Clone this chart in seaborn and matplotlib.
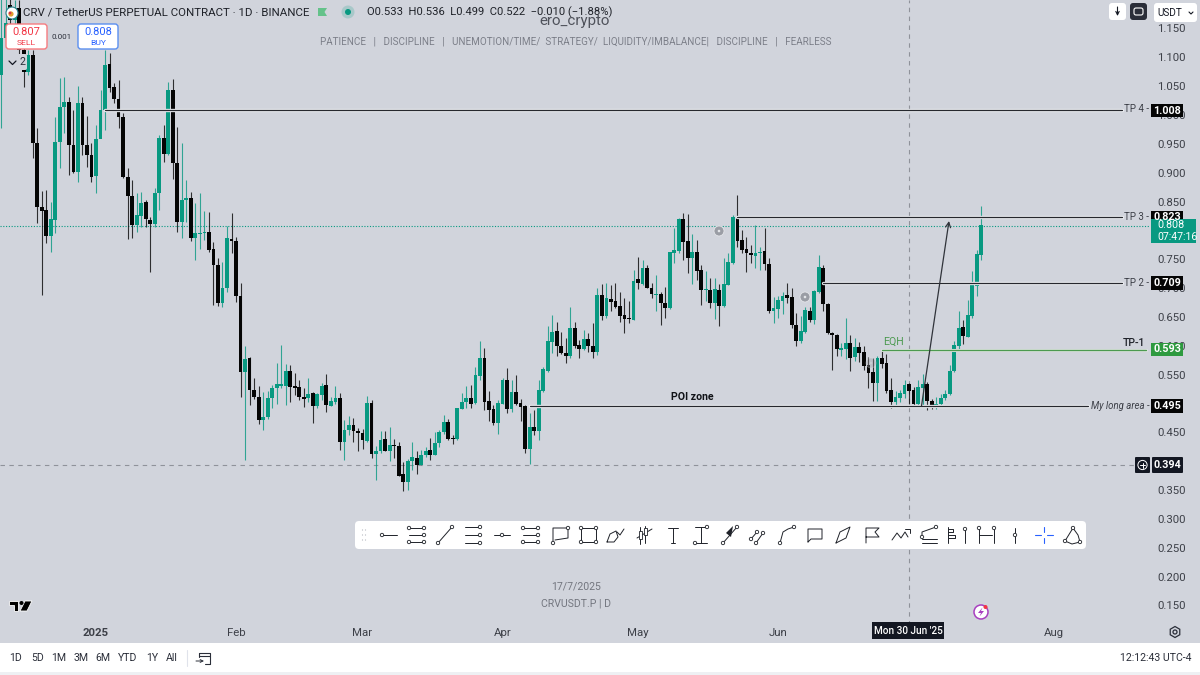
import numpy as np
import pandas as pd
import matplotlib
matplotlib.use("Agg")
import matplotlib.pyplot as plt
import matplotlib.dates as mdates
import matplotlib.patheffects as pe
from matplotlib.patches import Circle, FancyBboxPatch, Polygon, Rectangle, RegularPolygon
import seaborn as sns

first_day = "2024-12-11"

opens = [1.069,1.133,1.190,1.165,1.185,1.113,1.075,1.104,.952,.840,.835,.791,.818,.953,1.014,1.023,.948,.901,1.020,.948,
         .930,.894,.958,1.009,1.088,1.048,1.027,.996,.892,.859,.809,.825,.849,.818,.811,.865,.961,.932,1.044,.917,
         .815,.852,.857,.786,.793,.795,.798,.768,.740,.675,.700,.785,.782,.687,.555,.578,.524,.512,.471,.476,
         .510,.526,.531,.530,.557,.531,.529,.512,.510,.518,.495,.515,.532,.496,.503,.509,.434,.454,.462,.453,
         .449,.435,.501,.412,.417,.438,.418,.428,.427,.377,.364,.401,.405,.393,.410,.419,.411,.432,.450,.468,
         .440,.438,.491,.503,.509,.501,.548,.579,.504,.490,.467,.500,.541,.490,.520,.501,.496,.421,.460,.452,
         .522,.557,.607,.625,.600,.588,.582,.631,.601,.595,.612,.600,.589,.688,.652,.681,.677,.669,.653,.648,
         .645,.715,.707,.735,.701,.688,.690,.674,.665,.760,.765,.819,.782,.752,.763,.731,.697,.697,.674,.697,
         .669,.706,.743,.824,.783,.768,.761,.756,.760,.764,.742,.660,.664,.678,.688,.684,.636,.609,.624,.661,
         .644,.694,.735,.673,.623,.619,.593,.594,.605,.580,.598,.590,.566,.554,.535,.579,.570,.523,.503,.509,
         .516,.533,.523,.500,.526,.534,.505,.497,.500,.510,.516,.556,.600,.632,.616,.652,.704,.757]
highs = [1.210,1.210,1.210,1.200,1.200,1.124,1.113,1.113,.977,.869,.870,.850,.997,1.064,1.066,1.031,1.009,1.050,1.032,.998,
         .951,.983,1.044,1.113,1.108,1.055,1.061,1.003,.908,.887,.865,.867,.853,.824,.873,.965,.983,1.058,1.062,.979,
         .952,.887,.867,.847,.865,.834,.832,.780,.752,.746,.808,.831,.788,.708,.600,.581,.544,.531,.520,.522,
         .532,.570,.601,.568,.566,.553,.541,.526,.545,.520,.519,.535,.551,.512,.530,.518,.471,.478,.475,.457,
         .455,.513,.506,.427,.452,.453,.459,.438,.434,.399,.403,.434,.418,.419,.424,.441,.451,.454,.480,.473,
         .445,.493,.519,.530,.532,.564,.608,.596,.522,.497,.506,.545,.562,.540,.549,.508,.497,.484,.488,.540,
         .564,.635,.653,.641,.624,.613,.667,.641,.610,.627,.622,.639,.700,.707,.708,.705,.709,.693,.683,.678,
         .731,.754,.749,.740,.708,.723,.694,.702,.763,.805,.821,.831,.828,.793,.783,.740,.729,.718,.718,.707,
         .753,.760,.827,.861,.800,.789,.775,.809,.772,.805,.752,.685,.686,.694,.709,.701,.656,.652,.668,.668,
         .697,.757,.740,.675,.624,.620,.605,.648,.619,.614,.607,.599,.581,.578,.583,.594,.586,.544,.522,.523,
         .540,.536,.529,.541,.551,.538,.508,.512,.516,.523,.566,.609,.661,.644,.679,.730,.766,.843]
lows = [.977,1.130,1.130,1.130,1.090,1.049,1.069,.925,.813,.688,.779,.763,.795,.908,.968,.896,.899,.884,.931,.910,
        .884,.865,.974,.974,1.040,1.020,.977,.890,.785,.786,.797,.806,.806,.728,.806,.835,.919,.931,.889,.797,
        .786,.815,.782,.748,.767,.783,.763,.671,.669,.667,.694,.761,.676,.512,.402,.497,.507,.464,.454,.474,
        .492,.500,.526,.497,.503,.515,.506,.494,.503,.467,.492,.506,.486,.495,.500,.419,.402,.445,.434,.417,
        .421,.434,.405,.367,.414,.417,.401,.405,.374,.348,.350,.385,.378,.393,.408,.402,.410,.424,.447,.436,
        .430,.437,.490,.492,.492,.500,.541,.489,.470,.463,.447,.499,.483,.486,.497,.470,.414,.396,.445,.436,
        .520,.555,.587,.583,.586,.570,.578,.596,.578,.593,.589,.578,.584,.645,.648,.661,.665,.641,.623,.640,
        .644,.698,.705,.700,.682,.661,.636,.649,.664,.744,.760,.749,.727,.707,.714,.671,.678,.666,.646,.635,
        .668,.705,.742,.771,.760,.728,.743,.734,.731,.731,.657,.640,.648,.655,.674,.630,.600,.604,.622,.642,
        .638,.691,.661,.620,.558,.583,.583,.577,.557,.574,.572,.558,.526,.505,.505,.562,.518,.493,.496,.503,
        .509,.499,.496,.496,.497,.489,.490,.490,.497,.506,.514,.555,.593,.603,.615,.649,.686,.748]
closes = [1.133,1.160,1.165,1.185,1.113,1.075,1.104,.951,.840,.833,.791,.819,.953,1.014,1.023,.948,.901,1.021,.948,.930,
          .893,.958,1.009,1.087,1.047,1.027,.996,.892,.859,.809,.826,.847,.819,.811,.865,.961,.932,1.044,.916,.815,
          .853,.857,.786,.795,.796,.798,.766,.740,.675,.700,.786,.782,.686,.555,.577,.524,.512,.471,.476,.510,
          .526,.534,.534,.556,.529,.526,.511,.508,.517,.495,.517,.531,.498,.504,.509,.434,.454,.462,.452,.449,
          .436,.501,.412,.418,.437,.418,.428,.426,.375,.364,.401,.407,.393,.410,.418,.410,.432,.451,.468,.438,
          .438,.492,.503,.509,.500,.549,.579,.502,.489,.466,.501,.541,.490,.520,.500,.494,.422,.459,.453,.523,
          .560,.608,.624,.600,.587,.582,.630,.600,.595,.612,.600,.589,.688,.652,.682,.676,.668,.652,.647,.646,
          .713,.708,.735,.701,.689,.690,.675,.665,.762,.766,.820,.780,.752,.763,.730,.697,.698,.674,.698,.669,
          .707,.745,.824,.782,.766,.760,.758,.760,.763,.741,.661,.665,.679,.687,.682,.636,.609,.626,.662,.645,
          .695,.737,.672,.622,.618,.594,.597,.605,.579,.598,.588,.565,.553,.535,.579,.568,.522,.503,.512,.518,
          .532,.522,.500,.528,.534,.505,.496,.500,.510,.516,.557,.601,.631,.617,.653,.705,.759,.809]

price_ticks = [1.15,1.10,1.05,1.00,.95,.90,.85,.75,.70,.65,.60,.55,.45,.35,.30,.25,.20,.15]
month_ticks = ["2025-01-01","2025-02-01","2025-03-01","2025-04-01","2025-05-01","2025-06-01","2025-08-01"]
month_labels = ["2025","Feb","Mar","Apr","May","Jun","Aug"]
range_labels = ["1D","5D","1M","3M","6M","YTD","1Y","All"]

tp_levels = [1.008,.823,.709,.495]
tp_start = ["2025-01-03","2025-05-23","2025-06-11","2025-04-07"]
eqh_level = .593
last_price = .808
cross_price = .394
cross_day = "2025-06-30"

BG = "#d1d4dc"
GREEN = "#089981"
DARK = "#131722"
FONT = ["Roboto", "DejaVu Sans"]

sns.set_theme(style="white", rc={"axes.facecolor": BG, "figure.facecolor": BG})
plt.rcParams["font.family"] = FONT

df = pd.DataFrame({"day": mdates.date2num(pd.date_range(first_day, periods=len(closes))),
                   "open": opens, "high": highs, "low": lows, "close": closes})
df["up"] = df["close"] >= df["open"]
df["bottom"] = df[["open", "close"]].min(axis=1)
df["body"] = (df["close"] - df["open"]).abs()

fig = plt.figure(figsize=(12, 6.75), dpi=100)
ax = fig.add_axes([0, 50 / 675, 1150 / 1200, 625 / 675])

# pixel scale of the chart pane
DAY_PX = 4.517
day0 = mdates.datestr2num("2025-01-01")


def px_day(px):
    return day0 + (px - 96) / DAY_PX


ax.set_xlim(px_day(0), px_day(1150))
ax.set_ylim(1 - 510 / 577, 1 + 115 / 577)

for up, color in [(True, GREEN), (False, "#050505")]:
    sub = df[df["up"] == up].sort_values("day")
    ax.vlines(sub["day"], sub["low"], sub["high"], color=color, lw=0.8, alpha=0.8, zorder=1)
    sns.barplot(data=sub, x="day", y="body", bottom=sub["bottom"].values, native_scale=True,
                color=color, saturation=1, width=0.84, errorbar=None, linewidth=0, ax=ax, zorder=2)

halo = [pe.Stroke(linewidth=2.4, foreground="#eceef2"), pe.Normal()]
for level, start in zip(tp_levels, tp_start):
    end = px_day(1088) if level == .495 else px_day(1122)
    ax.plot([mdates.datestr2num(start), end], [level, level], color="#26282e", lw=0.9,
            path_effects=halo, zorder=3)
ax.plot([px_day(882), px_day(1146)], [eqh_level, eqh_level], color="#4c9a50", lw=1.0,
        path_effects=[pe.Stroke(linewidth=2.2, foreground="#e4e8e6"), pe.Normal()], zorder=3)
ax.axhline(last_price, color=GREEN, lw=0.8, ls=(0, (1, 1.5)), zorder=0.5)
ax.axhline(cross_price, color="#8f929a", lw=0.8, ls=(0, (4, 4)), zorder=0.5)
ax.axvline(mdates.datestr2num(cross_day), color="#8f929a", lw=0.8, ls=(0, (4, 4)), zorder=0.5)

ax.set_yticks(price_ticks)
ax.set_yticklabels([f"{p:.3f}" for p in price_ticks])
ax.yaxis.tick_right()
ax.set_xticks(mdates.datestr2num(month_ticks))
ax.set_xticklabels(month_labels)
ax.tick_params(axis="y", length=0, pad=5, labelsize=8.2, labelcolor="#3d4048")
ax.tick_params(axis="x", length=0, pad=2, labelsize=8.2, labelcolor="#3d4048")
ax.get_xticklabels()[0].set_fontweight("bold")
ax.set_xlabel("")
ax.set_ylabel("")
sns.despine(ax=ax, left=True, bottom=True, right=True, top=True)

# everything that is screen furniture goes on a pixel overlay
ui = fig.add_axes([0, 0, 1, 1], facecolor="none")
ui.set_xlim(0, 1200)
ui.set_ylim(675, 0)
ui.axis("off")


def txt(x, y, s, px=11, color=DARK, ha="center", **kw):
    return ui.text(x, y, s, fontsize=px * 0.72, color=color, ha=ha, va="center", **kw)


def box(x0, y0, x1, y1, fc, ec="none", r=0, lw=1.0, z=3):
    if r:
        p = FancyBboxPatch((x0, y0), x1 - x0, y1 - y0, boxstyle=f"round,pad=0,rounding_size={r}",
                           fc=fc, ec=ec, lw=lw, zorder=z)
    else:
        p = Rectangle((x0, y0), x1 - x0, y1 - y0, fc=fc, ec=ec, lw=lw, zorder=z)
    ui.add_patch(p)


# header
ui.add_patch(Circle((12, 13), 6, fc="white", ec="#2a7f8a", lw=0.8))
ui.add_patch(Circle((11, 14), 2.6, fc="#e0a030", ec="none"))
ui.add_patch(Circle((10, 13), 1.4, fc="#d8334a", ec="none"))
txt(23, 12.5, "CRV / TetherUS PERPETUAL CONTRACT · 1D · BINANCE", 11.45, "#1f2229", ha="left")
ui.add_patch(Polygon([(318, 8), (327, 8), (324.5, 12), (327, 16), (318, 16)], fc="#64c28a", ec="none"))
ui.add_patch(Circle((348, 12), 6.5, fc=GREEN, ec="none", alpha=0.2))
ui.add_patch(Circle((348, 12), 3, fc=GREEN, ec="none"))
txt(367, 12.5, "O0.533  H0.536  L0.499  C0.522  −0.010 (−1.88%)", 11.2, "#1f2229", ha="left")
txt(575, 21, "ero_crypto", 15, "#4f525b")
txt(575.5, 41, "PATIENCE   |   DISCIPLINE   |   UNEMOTION/TIME/  STRATEGY/  LIQUIDITY/IMBALANCE|   DISCIPLINE   |   FEARLESS",
    9.9, "#7c7f89")

box(6, 24, 47, 49, "white", "#f77c80", r=3)
txt(26.5, 32, "0.807", 11, "#f23645", zorder=4)
txt(26.5, 43, "SELL", 8.5, "#f23645", zorder=4)
txt(62, 37, "0.001", 8, "#2a2e39")
box(78, 24, 118, 49, "white", "#5b8ff0", r=3)
txt(98, 32, "0.808", 11, "#2962ff", zorder=4)
txt(98, 43, "BUY", 8.5, "#2962ff", zorder=4)
box(6, 54, 27, 70, "#d1d4dc", r=2, z=2.5)
ui.plot([9, 12.5, 16], [61, 64.5, 61], color=DARK, lw=0.9, zorder=4)
txt(22, 62, "2", 10.5, "#2a2e39", zorder=4)

# right-hand top buttons
box(1109, 3, 1126, 20, "white", r=3)
ui.annotate("", xy=(1117.5, 16), xytext=(1117.5, 7), arrowprops=dict(arrowstyle="->", color=DARK, lw=0.8, shrinkA=0, shrinkB=0, mutation_scale=6), zorder=4)
box(1130, 3, 1147, 20, "#2a2e39", r=3)
box(1134, 8, 1143, 15, "none", "white", r=2, lw=0.8, z=4)
box(1154, 3, 1197, 22, "white", r=3)
txt(1157, 12.5, "USDT", 10, DARK, ha="left", zorder=4)
ui.plot([1189, 1191, 1193], [12, 14, 12], color=DARK, lw=0.8, zorder=4)

# price boxes
for y0, y1, s in [(104, 117, "1.008"), (211, 224, "0.823"), (276, 290, "0.709"), (399, 413, "0.495")]:
    box(1151, y0, 1183, y1, "#050505", z=3)
    txt(1167, (y0 + y1) / 2, s, 10.8, "white", fontweight="bold", zorder=4)
box(1151, 343, 1183, 356, "#2e9a3f", z=3)
txt(1167, 349.5, "0.593", 10.8, "white", fontweight="bold", zorder=4)
box(1151, 219, 1196, 243, GREEN, z=3.5)
txt(1157, 225.5, "0.808", 10.8, "white", ha="left", zorder=4)
txt(1157, 236.5, "07:47:16", 10.5, "white", ha="left", zorder=4)
box(1152, 457, 1183, 473, DARK, r=1, z=3)
txt(1167.5, 465, "0.394", 10.8, "white", fontweight="bold", zorder=4)
box(1135, 457, 1150, 473, DARK, r=1, z=3)
ui.add_patch(Circle((1142.5, 465), 4.6, fc="none", ec="white", lw=0.7, zorder=4))
ui.plot([1140, 1145], [465, 465], color="white", lw=0.7, zorder=4)
ui.plot([1142.5, 1142.5], [462.5, 467.5], color="white", lw=0.7, zorder=4)

# level labels
txt(1149.5, 109.5, "TP 4 -", 9.8, "#3d4048", ha="right")
txt(1149.5, 216.5, "TP 3 -", 9.8, "#3d4048", ha="right")
txt(1149.5, 282.5, "TP 2 -", 9.8, "#3d4048", ha="right")
txt(1145, 343, "TP-1", 10.5, "#1f2229", ha="right", fontweight="medium")
txt(1149.5, 406, "My long area -", 9.6, "#3d4048", ha="right", style="italic")
txt(692, 397.5, "POI zone", 10.5, "#111318", fontweight="bold")
txt(893, 341.5, "EQH", 10.5, "#4c9a50")
ui.annotate("", xy=(949, 221), xytext=(921.5, 406),
            arrowprops=dict(arrowstyle="->", color="#30333a", lw=0.9, shrinkA=0, shrinkB=0, mutation_scale=9))

# alarm markers
for cx, cy, a in [(719, 231, 1), (805, 297, 1), (871, 363, 0.35)]:
    ui.add_patch(Circle((cx, cy), 5, fc="#9a9da5", ec="#e4e6ea", lw=0.6, alpha=a))
    ui.add_patch(Circle((cx, cy), 1.3, fc="#e4e6ea", ec="none", alpha=a))

# drawing toolbar
box(355, 521, 1086, 549, "white", r=4, z=3)
for dx in (362.5, 365.5):
    for dy in (530, 535, 540):
        ui.add_patch(Circle((dx, dy), 0.6, fc="#b2b5be", ec="none", zorder=4))

toolbar_x = [388, 416, 445, 473, 502, 530, 560, 588, 616, 644, 673, 701, 730, 758, 787, 815, 843, 872, 901, 929,
             951, 965, 987, 1015, 1072]
toolbar_lines = [
    [[(-6, 0), (9, 0)]],
    [[(-7, -7), (8, -7)], [(-7, 0), (8, 0)], [(-7, 7), (8, 7)]],
    [[(-7, 8), (7, -8)]],
    [[(-8, -8), (7, -8)], [(-8, 0), (7, 0)], [(-8, 8), (7, 8)]],
    [[(-8, 0), (8, 0)]],
    [[(-7, -7), (8, -7)], [(-7, 0), (8, 0)], [(-7, 7), (8, 7)]],
    [[(-7, 8), (-7, -7), (8, -7), (8, 3), (-5, 5)]],
    [[(-7, -7), (8, -7), (8, 7), (-7, 7), (-7, -7)]],
    [[(-9, 7), (-6, -1), (0, -4), (2, 2), (-2, 7), (-9, 7)], [(1, -3), (4, 0), (8, -6)]],
    [[(-4, -8), (-4, 9)], [(1, -9), (1, 8)], [(-7, 3), (8, -6)]],
    [[(-5, -7), (5, -7)], [(0, -7), (0, 8)], [(-2, 8), (2, 8)]],
    [[(-6, -8), (6, -8)], [(0, -8), (0, 8)], [(-6, 8), (6, 8)]],
    [[(-7, 8), (7, -8)]],
    [[(-7, 4), (-1, -3)], [(-2, 8), (5, -2)]],
    [[(-7, 8), (-4, -3), (1, -6), (7, -8)]],
    [[(-7, 7), (-7, -6), (7, -6), (7, 4), (-4, 4), (-7, 7)]],
    [[(-7, 8), (-3, -3), (7, -8), (3, 3), (-7, 8)]],
    [[(-6, 8), (-6, -7), (7, -7), (3, -3), (7, 2), (-6, 2)]],
    [[(-9, 5), (-4, -2), (0, 3), (4, -3), (7, 2)], [(4, -6), (9, -6), (9, -2)]],
    [[(-7, 2), (-7, -3), (7, -8)], [(-7, 4), (8, 4)], [(-7, 8), (8, 8)]],
    [[(-3, -8), (-3, 8)], [(-3, -6), (2, -6), (2, -3), (-3, -3)], [(-3, 0), (4, 0), (4, 3), (-3, 3)]],
    [[(0, -6), (0, 8)]],
    [[(-8, -7), (-8, 8)], [(-8, 0), (5, 0)], [(7, -7), (7, 8)]],
    [[(0, -7), (0, 8)]],
    [[(-7, 6), (1, -7), (6, 0), (8, 7), (0, 9), (-7, 6)]],
]
toolbar_handles = [
    [(-6, 0)], [(-7, -7), (8, -7), (-7, 7), (8, 7), (8, 0)], [(-7, 8), (7, -8)], [(7, -8), (7, 0), (7, 8)], [(0, 0)],
    [(-7, -7), (8, -7), (-7, 7), (8, 7), (8, 0)], [(-7, 8), (8, -7)], [(-7, -7), (8, -7), (8, 7), (-7, 7)], [], [],
    [], [(6, -8), (-6, 8)], [(-7, 8), (7, -8)], [(-7, 4), (-1, -3), (-2, 8), (5, -2)], [(-7, 8), (7, -8)], [], [], [], [],
    [(-7, 2), (7, -8)], [], [(0, -6)], [(-8, -7), (7, -7)], [(0, 0)], [(-7, 6), (1, -7), (8, 7)],
]
for cx, lines, handles in zip(toolbar_x, toolbar_lines, toolbar_handles):
    for line in lines:
        pts = np.array(line, dtype=float)
        ui.plot(cx + pts[:, 0], 535 + pts[:, 1], color="#1f2229", lw=0.7, zorder=4)
    for hx, hy in handles:
        ui.add_patch(Circle((cx + hx, 535 + hy), 1.7, fc="white", ec="#1f2229", lw=0.6, zorder=5))
ui.add_patch(Polygon([(733, 526), (726, 533), (731, 537)], fc="#1f2229", ec="none", zorder=5))
ui.add_patch(Rectangle((638.5, 531), 3, 8, fc="white", ec="#1f2229", lw=0.6, zorder=5))
ui.add_patch(Rectangle((643.5, 528), 3, 7, fc="white", ec="#1f2229", lw=0.6, zorder=5))
for seg in [[(1044, 527), (1044, 532)], [(1044, 538), (1044, 543)], [(1035, 535), (1041, 535)], [(1047, 535), (1053, 535)]]:
    pts = np.array(seg, dtype=float)
    ui.plot(pts[:, 0], pts[:, 1], color="#2962ff", lw=0.8, zorder=4)

# symbol watermark and logo
txt(576, 586, "17/7/2025", 10.5, "#73767f")
txt(576, 604, "CRVUSDT.P | D", 10.5, "#73767f")
logo = [[(9, 601), (18, 601), (18, 611), (14, 611), (14, 605), (9, 605)], [(25, 601), (32, 601), (27, 611), (20, 611)]]
for pts in logo:
    ui.add_patch(Polygon(pts, fc="black", ec="white", lw=0.6))
ui.add_patch(Circle((21.5, 603), 2, fc="black", ec="none"))

ui.add_patch(Circle((981, 612), 7, fc="white", ec="#a83fc0", lw=1.1))
ui.add_patch(Polygon([(982.5, 607.5), (978, 613), (981, 613), (979.5, 616.5), (984, 611), (981, 611)], fc="#a83fc0", ec="none"))
ui.add_patch(Circle((985.5, 607), 2, fc="#f23645", ec="none"))

# crosshair date label and gear
box(872, 622, 944, 639, DARK, z=3)
txt(908, 631, "Mon 30 Jun '25", 10, "white", fontweight="medium", zorder=4)
ui.add_patch(RegularPolygon((1175, 632), 6, radius=5.5, fc="none", ec="#2a2e39", lw=0.9))
ui.add_patch(Circle((1175, 632), 2, fc="none", ec="#2a2e39", lw=0.9))

# bottom bar
box(0, 643, 1200, 672, "white", z=2)
box(0, 672, 1200, 675, "#eef0f3", z=2)
for x, s in zip([16, 38, 59, 81, 103, 128, 152, 172], range_labels):
    txt(x, 658, s, 10.5, "#2a2e39", zorder=4)
ui.plot([186.5, 186.5], [650, 666], color="#e0e3eb", lw=0.8, zorder=4)
ui.plot([199, 210, 210, 205], [653, 653, 664, 664], color="#2a2e39", lw=0.8, zorder=4)
ui.plot([199, 199], [653, 657], color="#2a2e39", lw=0.8, zorder=4)
ui.plot([199, 210], [656, 656], color="#2a2e39", lw=0.8, zorder=4)
ui.annotate("", xy=(204, 661), xytext=(196, 661), arrowprops=dict(arrowstyle="->", color="#2a2e39", lw=0.7, shrinkA=0, shrinkB=0, mutation_scale=5), zorder=4)
txt(1192, 658, "12:12:43 UTC-4", 10.5, "#2a2e39", ha="right", zorder=4)

fig.savefig("out.png", dpi=100, facecolor=BG)
